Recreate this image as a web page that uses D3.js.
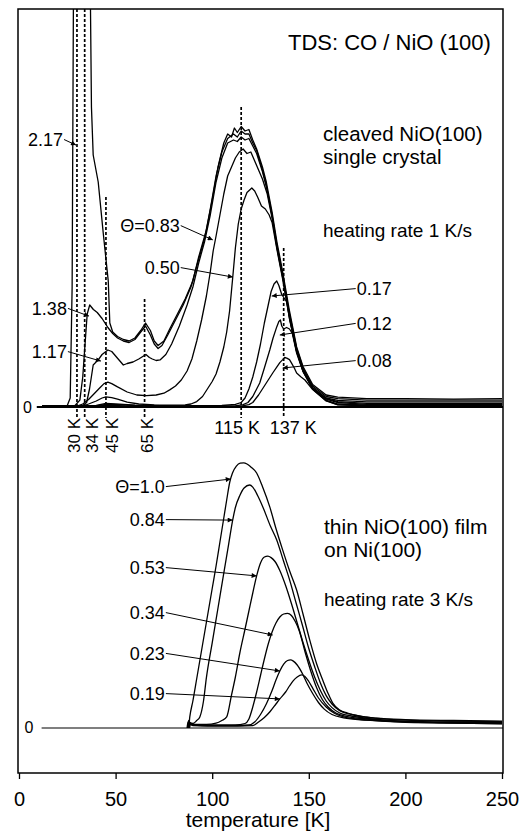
<!DOCTYPE html>
<html><head><meta charset="utf-8">
<script src="https://cdn.jsdelivr.net/npm/d3@7/dist/d3.min.js"></script>
<style>
html,body{margin:0;padding:0;background:#fff;}
svg{display:block;font-family:"Liberation Sans",Arial,Helvetica,sans-serif;}
</style></head><body>
<svg id="chart" width="529" height="832"></svg>
<script>
// ---------- DATA (temperature K, intensity arb. units) ----------
const xTicks = [0, 50, 100, 150, 200, 250];

// cleaved NiO(100) single crystal, heating rate 1 K/s
const cleavedCoverages = ["2.17", "1.38", "1.17", "0.83", "0.50", "0.17", "0.12", "0.08"];
const c217 = [[12,0.3],[20,0.3],[25,0.5],[26.5,3],[27.5,40],[28.2,140],[29,160],[36,160],[37,133],[37.5,100],[38.4,84],[41,75],[43.6,58],[46.2,42],[47,28],[48.5,25],[51,23.5],[54,22.5],[57,22],[60,23],[63,25.5],[65.5,28],[68,25.5],[70,22],[72,20.5],[75,22],[78,26],[82,31],[86,36],[90,42],[93,50],[97,59],[100,69],[103,80],[106,88],[108,91],[110,90],[111.5,93],[113,91.5],[115,93.5],[117,92],[119,92.5],[121,89],[123,86],[126,80],[128,75],[131,65],[133.5,55],[136.5,45],[140,32],[143.7,20],[147,13.5],[152,7.5],[159,4],[165,3.3],[180,2.8],[200,2.8],[225,2.6],[250,2.8]];
const c138 = [[12,0.3],[25,0.3],[29,0.5],[31.5,2.3],[33,10],[34.3,22],[35.3,31],[36.6,34],[38.5,32.5],[40.5,31.5],[43,29.5],[46,26.5],[48.5,24.5],[51,23],[54,22],[57,21.5],[60,22.5],[63,25],[65.5,27],[68,24],[70,21],[72,19.5],[74,20.5],[77,24],[81,29],[85,34],[89,40],[92,47],[96,56],[99,66],[102,77],[105,85],[108,89.5],[111,91],[113,90],[115,92],[117,91],[119,91],[121,88],[123,85.5],[126,79],[128,74],[131,64],[133.5,54],[136.5,44],[140,31],[143.7,19.5],[147,13],[152,7],[159,3.5],[165,2.8],[180,2.3],[250,2.3]];
const c117 = [[12,0.3],[30,0.3],[33,0.5],[35,1.5],[36.5,6],[38.4,14],[41,15.7],[43,17.5],[46,19],[48,18.5],[50,17],[52,15.5],[54,14],[56,14.5],[59,15],[62,16],[65.7,17.5],[67.5,16.5],[69,16],[71,15.5],[73,15.7],[76,17.5],[79,21],[83,27],[87,34],[90,40],[93,48],[96,55],[99,64],[102,75],[105,83],[108,88],[111,89],[113,88.5],[115,90],[117,89],[119,89.5],[121,87],[123,84.5],[126,78.5],[128,73.5],[131,63.5],[133.5,53.5],[136.5,43.5],[140,30.5],[143.7,19],[147,12.5],[152,6.5],[159,3],[165,2.2],[180,1.7],[250,1.7]];
const c083 = [[12,0.3],[30,0.3],[33,1],[36,2.5],[39,4.5],[42,6.5],[44,7.8],[46,8.3],[48,7.8],[51,6.7],[56,5],[61,4],[66,3.8],[71,4],[75,4.6],[78,5.7],[81,7],[84,9],[87,12],[89.5,16],[92,22],[94.5,29],[97,37],[99,45],[100.5,52],[102,57],[104,64],[106,71],[108,77],[110,80],[112,83],[114,85],[116,86],[118,84.5],[120,85],[122,82],[124,79],[126,76],[128.5,71],[131,63],[133.5,53],[136.5,43],[140,30],[143.7,18.8],[147,12.3],[152,6.3],[159,2.8],[165,1.8],[180,1.2],[250,1.2]];
const c050 = [[12,0.3],[33,0.3],[36,1],[40,2],[43,3],[45,3.4],[48,3.1],[51,2.6],[56,1.6],[62,1],[70,0.7],[80,0.6],[86,0.7],[89,1],[92,1.8],[95,3.5],[98,6.5],[100,8.5],[102,11],[104,15],[106,20],[107.5,25],[109,32],[110.6,43],[112,53],[113.5,61],[115,66],[116.5,69],[118,71.5],[120.5,73],[122,72],[123.5,70],[125.5,67],[127.5,66],[129.5,64],[131,61.5],[133.5,52.5],[136.5,42.5],[140,29.5],[143.7,18.5],[147,12],[152,6.2],[159,2.6],[165,1.5],[180,0.9],[250,0.9]];
const c017 = [[12,0.3],[40,0.5],[45,1.2],[50,1],[60,0.6],[80,0.4],[105,0.5],[112,0.9],[115,1.5],[117,3],[119,6],[121,10],[123,15],[125,21],[127,28],[129,34],[130.5,38.5],[132,41],[133.4,42],[134.5,40.5],[136,37.5],[138.6,35],[140,29.5],[143.7,18.5],[147,12],[152,6],[159,2.2],[165,1],[180,0.6],[250,0.6]];
const c012 = [[12,0.3],[40,0.4],[45,0.9],[50,0.8],[60,0.5],[80,0.3],[112,0.4],[116,0.8],[118.5,1.5],[121,3.5],[123,6],[124.6,8],[127,13],[129.8,19],[131.5,23],[133.4,26.7],[134.5,28.5],[135.3,29],[136,27],[137,26],[138.5,26.5],[140,26],[141.5,24.5],[143.7,18],[147,11.8],[152,6],[159,2.1],[165,0.8],[180,0.5],[250,0.5]];
const c008 = [[12,0.3],[40,0.3],[45,0.6],[55,0.4],[80,0.3],[115,0.3],[119,0.8],[121,1.5],[124,4],[126,6],[128,8],[130,10],[131.5,11.5],[133.4,13.3],[135,14.8],[136.5,15.8],[137.5,16.5],[138.6,16.3],[140,15.8],[141,14.7],[142.5,13],[143.7,11.3],[146,10],[148,9],[152,5.8],[159,2],[165,0.7],[180,0.4],[250,0.4]];

// thin NiO(100) film on Ni(100), heating rate 3 K/s
const filmCoverages = ["1.0", "0.84", "0.53", "0.34", "0.23", "0.19"];
const f100 = [[87,0],[87.5,2],[88,1.5],[88.4,3.7],[90,9],[92,16.5],[94,24],[96,31.5],[98,39],[100,46.5],[102,54],[104,62],[106,70],[107.5,76],[109.1,82],[110.5,85],[112.5,87.3],[114.5,88.3],[116.3,88.4],[118,88],[120,87],[123,85],[126,80.5],[129.8,73.7],[133,66.5],[136.5,59.3],[140,52.5],[143.7,46],[147,38],[150.5,29.3],[154,21.5],[157.2,16],[160,11.5],[162.4,8.3],[166,6],[170,5],[176,4],[185,3.3],[200,2.8],[225,2.5],[250,2.3]];
const f084 = [[87.3,0],[87.8,2.5],[88.5,1.8],[90,1.5],[92,2.5],[93.6,3.7],[95.5,9],[97,16.8],[100,28.4],[103,40],[106,51.6],[108.5,61.2],[110.6,69.3],[112,73.5],[114.3,77.5],[116.5,80],[119.4,81],[121,80.3],[123.5,77.5],[126.2,73.7],[130,67.5],[133.4,62.7],[137,55.5],[140.1,49.3],[143.5,41.5],[146.8,34],[150,26.5],[153,20.5],[156,15],[159,10.8],[162,8],[166,5.8],[172,4.5],[180,3.6],[200,2.6],[225,2.3],[250,2.1]];
const f053 = [[87.5,0],[88,2],[88.8,1.5],[92,1.2],[97,1.2],[102,1.6],[105,2.5],[107.5,3.7],[110,11],[112,17],[114.3,25],[117,33],[119,39],[121,45],[123,50.7],[125,55],[127,57],[128.8,57.3],[130.5,56.8],[132.5,55.5],[135,52.5],[138,47.5],[141,41.5],[144,35],[147,28.5],[150,22.5],[153,17],[156,12.5],[159,9],[162,6.8],[166,5],[172,4],[180,3.2],[200,2.3],[225,2],[250,1.9]];
const f034 = [[87.8,0],[88.3,1.8],[89,1.2],[95,1],[105,1],[112,1],[117,1.5],[119,3],[121,7],[123,12],[125,17.5],[127,23],[129,28],[131,32],[133,35],[135,37],[137,38],[139,38.2],[141,37.5],[143,35.5],[145,32.5],[148,25.5],[151,19],[154,13.5],[157,9.5],[160,7],[164,5],[170,3.8],[180,3],[200,2.1],[250,1.7]];
const f023 = [[88,0],[88.5,1.5],[89.5,1],[100,0.8],[110,0.8],[119,1],[122,2],[125,4.5],[128,8],[131,12.5],[133,16],[135,19],[137,21.3],[139,22.5],[140.5,22.7],[142,22.3],[144,21],[146.8,18],[149,15],[152,11.5],[155,8.5],[158,6.3],[162,4.5],[168,3.4],[180,2.6],[200,1.9],[250,1.5]];
const f019 = [[88.3,0],[88.8,1.3],[90,0.8],[105,0.6],[121,0.8],[124,2],[127,3.5],[130,5.5],[133,8],[135,9.7],[138,12],[140,14],[142,15.8],[144,17],[146.3,17.7],[148,17.2],[150,15.5],[152,13.3],[155,10],[159,7],[163,5],[168,3.7],[175,3],[190,2.3],[220,1.7],[250,1.4]];

// peak-temperature markers in the upper panel
const markerT = [30, 34, 45, 65, 115, 137];
const markerTop = [133, 133, 70, 36, 100, 53];
const markerLabels = ["30 K", "34 K", "45 K", "65 K", "115 K", "137 K"];

// ---------- LAYOUT ----------
const svg = d3.select("#chart");
const frame = {left: 18, right: 503, top: 9, bottom: 773};
const x = d3.scaleLinear().domain([0, 250]).range([19, 502]);
const yTop = d3.scaleLinear().domain([0, 100]).range([407, 107]);
const yBot = d3.scaleLinear().domain([0, 100]).range([728, 428]);

const defs = svg.append("defs");
defs.append("clipPath").attr("id", "clipTop").append("rect")
  .attr("x", frame.left).attr("y", frame.top).attr("width", frame.right - frame.left).attr("height", 420 - frame.top);
defs.append("marker").attr("id", "ah").attr("viewBox", "0 0 10 10")
  .attr("refX", 10).attr("refY", 5).attr("markerWidth", 7).attr("markerHeight", 5)
  .attr("markerUnits", "userSpaceOnUse").attr("orient", "auto")
  .append("path").attr("d", "M0,0L10,5L0,10z").attr("fill", "#000");

// frame
svg.append("rect").attr("x", frame.left).attr("y", frame.top)
  .attr("width", frame.right - frame.left).attr("height", frame.bottom - frame.top)
  .attr("fill", "none").attr("stroke", "#000").attr("stroke-width", 1.5);

// x axis
const axis = svg.append("g").attr("transform", `translate(0,${frame.bottom})`)
  .call(d3.axisBottom(x).tickValues(xTicks).tickSize(6).tickSizeOuter(0).tickFormat(d3.format("d")));
axis.select(".domain").remove();
axis.selectAll(".tick line").attr("stroke", "#000").attr("stroke-width", 1.3);
axis.selectAll(".tick text").attr("font-size", 20).attr("font-family", "Liberation Sans, Arial, sans-serif")
  .attr("fill", "#000").attr("y", 0).attr("dy", 33);
svg.append("text").attr("x", 258).attr("y", 827).attr("text-anchor", "middle")
  .attr("font-size", 21).text("temperature [K]");

// zero lines
svg.append("line").attr("x1", x(9.2)).attr("x2", frame.right).attr("y1", yTop(0)).attr("y2", yTop(0))
  .attr("stroke", "#000").attr("stroke-width", 1.8);
svg.append("line").attr("x1", x(11.7)).attr("x2", frame.right).attr("y1", yBot(0)).attr("y2", yBot(0))
  .attr("stroke", "#000").attr("stroke-width", 1.2);
svg.append("text").attr("x", 27.5).attr("y", 413).attr("text-anchor", "middle").attr("font-size", 16).text("0");
svg.append("text").attr("x", 29).attr("y", 733).attr("text-anchor", "middle").attr("font-size", 16).text("0");

// marker dashed lines
const gm = svg.append("g");
markerT.forEach((t, i) => {
  gm.append("line").attr("x1", x(t)).attr("x2", x(t))
    .attr("y1", Math.max(yTop(markerTop[i]), frame.top)).attr("y2", yTop(-3.7))
    .attr("stroke", "#000").attr("stroke-width", 1.7).attr("stroke-dasharray", "3,2");
});
const rotDx = [-3, 7.5, 6.5, 2];
markerT.slice(0, 4).forEach((t, i) => {
  const cx = x(t) + rotDx[i];
  svg.append("text").attr("transform", `translate(${cx},418) rotate(-90)`)
    .attr("text-anchor", "end").attr("dy", "0.35em").attr("font-size", 17).text(markerLabels[i]);
});
const horDx = [-4, 9.5];
markerT.slice(4).forEach((t, i) => {
  svg.append("text").attr("x", x(t) + horDx[i]).attr("y", 434).attr("text-anchor", "middle")
    .attr("font-size", 18).text(markerLabels[4 + i]);
});

// curves
const lineTop = d3.line().x(d => x(d[0])).y(d => yTop(d[1])).curve(d3.curveLinear);
const lineBot = d3.line().x(d => x(d[0])).y(d => yBot(d[1])).curve(d3.curveMonotoneX);
const gTop = svg.append("g").attr("clip-path", "url(#clipTop)");
[c217, c138, c117, c083, c050, c017, c012, c008].forEach(s => {
  gTop.append("path").attr("d", lineTop(s)).attr("fill", "none").attr("stroke", "#000")
    .attr("stroke-width", 1.3).attr("stroke-linejoin", "round");
});
const gBot = svg.append("g");
[f100, f084, f053, f034, f023, f019].forEach(s => {
  gBot.append("path").attr("d", lineBot(s)).attr("fill", "none").attr("stroke", "#000")
    .attr("stroke-width", 1.3);
});

// coverage labels with arrows
const topLabelText = ["2.17", "1.38", "1.17", "\u0398=0.83", "0.50", "0.17", "0.12", "0.08"];
const topLabelAt = [[22.8, 87], [24.8, 30.7], [24.8, 16.3], [83.2, 58.3], [83.2, 44.3], [174.8, 37.3], [174.8, 25.7], [174.8, 13.3]];
const topArrowTo = [[29.5, 87.3], [36.2, 30.3], [42.4, 15.3], [100.3, 55.7], [110.7, 43.3], [130.8, 37], [135, 24], [136.5, 13]];
const botLabelText = ["\u0398=1.0", "0.84", "0.53", "0.34", "0.23", "0.19"];
const botLabelAt = [[75.5, 78.3], [75.5, 67.3], [75.5, 51.3], [75.5, 36.3], [75.5, 22.7], [75.5, 9.3]];
const botArrowTo = [[109.6, 83], [110.6, 69.3], [123, 50.7], [131.3, 31], [135, 19], [135, 9.7]];

function annotate(texts, at, to, ys) {
  texts.forEach((t, i) => {
    const lx = x(at[i][0]), ly = ys(at[i][1]);
    const tx = x(to[i][0]), ty = ys(to[i][1]);
    const right = tx > lx;
    svg.append("text").attr("x", lx).attr("y", ly).attr("text-anchor", right ? "end" : "start")
      .attr("font-size", 18).text(t);
    svg.append("line").attr("x1", right ? lx + 1 : lx - 1).attr("y1", ly - 6.5)
      .attr("x2", tx).attr("y2", ty).attr("stroke", "#000").attr("stroke-width", 1)
      .attr("marker-end", "url(#ah)");
  });
}
annotate(topLabelText, topLabelAt, topArrowTo, yTop);
annotate(botLabelText, botLabelAt, botArrowTo, yBot);

// panel texts
svg.append("text").attr("x", 288).attr("y", 50).attr("font-size", 22).text("TDS: CO / NiO (100)");
svg.append("text").attr("x", 323).attr("y", 141).attr("font-size", 20.5).text("cleaved NiO(100)");
svg.append("text").attr("x", 323).attr("y", 164).attr("font-size", 20.5).text("single crystal");
svg.append("text").attr("x", 323).attr("y", 237).attr("font-size", 19).text("heating rate 1 K/s");
svg.append("text").attr("x", 324).attr("y", 533.5).attr("font-size", 21).text("thin NiO(100) film");
svg.append("text").attr("x", 324).attr("y", 557).attr("font-size", 21).text("on Ni(100)");
svg.append("text").attr("x", 324).attr("y", 605.5).attr("font-size", 19).text("heating rate 3 K/s");
</script>
</body></html>
